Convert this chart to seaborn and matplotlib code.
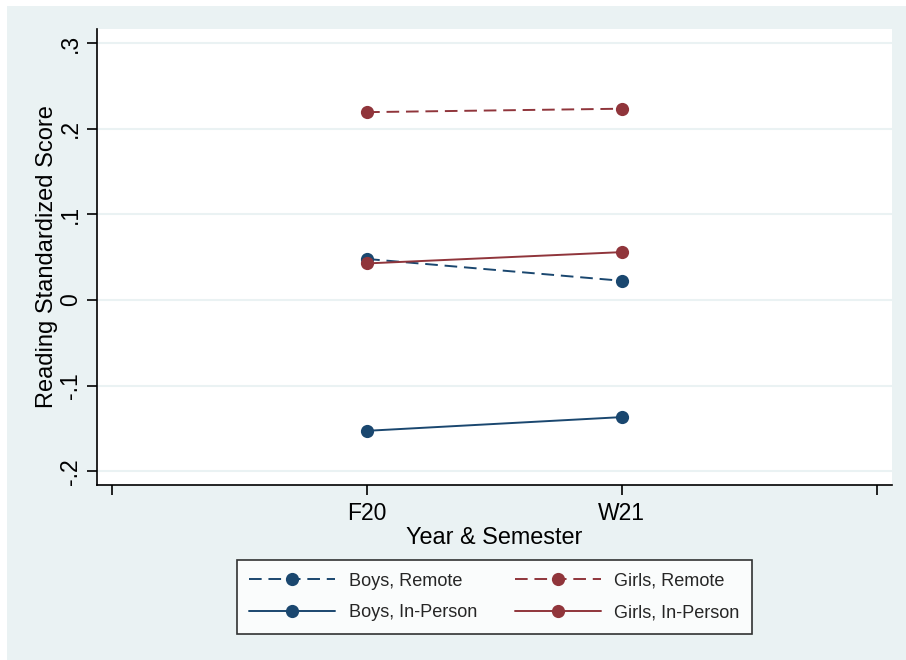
"""Reading standardized score by semester, sex and learning mode (Stata-like style)."""
import numpy as np
import pandas as pd
import matplotlib
matplotlib.use('Agg')
import matplotlib.pyplot as plt
from matplotlib.lines import Line2D
from matplotlib.patches import Rectangle
import seaborn as sns

semesters = ['F20', 'W21']
boys_remote = [0.048, 0.0225]
girls_remote = [0.2195, 0.2235]
boys_inperson = [-0.1527, -0.1367]
girls_inperson = [0.0428, 0.056]
y_ticks = [-0.2, -0.1, 0.0, 0.1, 0.2, 0.3]
y_ticklabels = ['-.2', '-.1', '0', '.1', '.2', '.3']

NAVY = '#1A476F'
MAROON = '#90353B'
BG = '#EAF2F3'

series = [
    ('Boys, Remote', boys_remote, NAVY, 'dash'),
    ('Girls, Remote', girls_remote, MAROON, 'dash'),
    ('Boys, In-Person', boys_inperson, NAVY, 'solid'),
    ('Girls, In-Person', girls_inperson, MAROON, 'solid'),
]

rows = []
for name, vals, _, _ in series:
    for i, s in enumerate(semesters):
        rows.append({'group': name, 'pos': i + 1, 'semester': s, 'score': vals[i]})
df = pd.DataFrame(rows)

sns.set_theme(style='white')
plt.rcParams['font.family'] = ['Liberation Sans', 'DejaVu Sans']

fig = plt.figure(figsize=(9.06, 6.6), dpi=100)
fig.patch.set_facecolor('white')
fig.patches.append(Rectangle((7 / 906, 0), 899 / 906, 654 / 660, transform=fig.transFigure,
                             facecolor=BG, edgecolor='none', zorder=-10))

ax = fig.add_axes([97 / 906, 1 - 485 / 660, (892 - 97) / 906, (485 - 29) / 660])
ax.set_facecolor('white')

dash_styles = {'dash': (0, (6.5, 3.5)), 'solid': '-'}
for name, vals, color, ls in series:
    sub = df[df['group'] == name]
    sns.lineplot(data=sub, x='pos', y='score', ax=ax, color=color, linewidth=1.4,
                 marker='o', markersize=9.5, markeredgewidth=0, legend=False)
    ax.lines[-1].set_linestyle(dash_styles[ls])

ax.set_xlim(-0.06, 3.06)
ax.set_ylim(-0.216, 0.3166)
ax.set_xticks([0, 1, 2, 3])
ax.set_xticklabels(['', semesters[0], semesters[1], ''])
ax.set_yticks(y_ticks)
ax.set_yticklabels(y_ticklabels, rotation=90, va='center')
for y in y_ticks:
    ax.axhline(y, color=BG, linewidth=1.5, zorder=0)

for side in ['top', 'right']:
    ax.spines[side].set_visible(False)
for side in ['left', 'bottom']:
    ax.spines[side].set_color('black')
    ax.spines[side].set_linewidth(1.2)
ax.tick_params(axis='both', which='both', length=7, width=1.2, color='black',
               labelsize=16.5, labelcolor='black', direction='out', bottom=True, left=True)
ax.tick_params(axis='x', pad=5)
ax.tick_params(axis='y', pad=4)

ax.set_xlabel('Year & Semester', fontsize=16.8, color='black', labelpad=1)
ax.set_ylabel('Reading Standardized Score', fontsize=17, color='black', labelpad=0.5)

order = [0, 2, 1, 3]
handles = []
for k in order:
    name, _, color, ls = series[k]
    handles.append(Line2D([0], [0], color=color, linewidth=1.4, linestyle=dash_styles[ls],
                          marker='o', markersize=9.5, markeredgewidth=0, label=name))
leg = fig.legend(handles=handles, loc='center', ncol=2,
                 bbox_to_anchor=(494.5 / 906, 1 - 597 / 660), frameon=True, fancybox=False,
                 fontsize=13.1, handlelength=4.7, handletextpad=0.75, columnspacing=2.1,
                 labelspacing=0.8, borderpad=0.7, borderaxespad=0)
leg.get_frame().set_edgecolor('black')
leg.get_frame().set_linewidth(1.2)
leg.get_frame().set_facecolor('white')

fig.savefig('out.png', dpi=100, facecolor=fig.get_facecolor())
